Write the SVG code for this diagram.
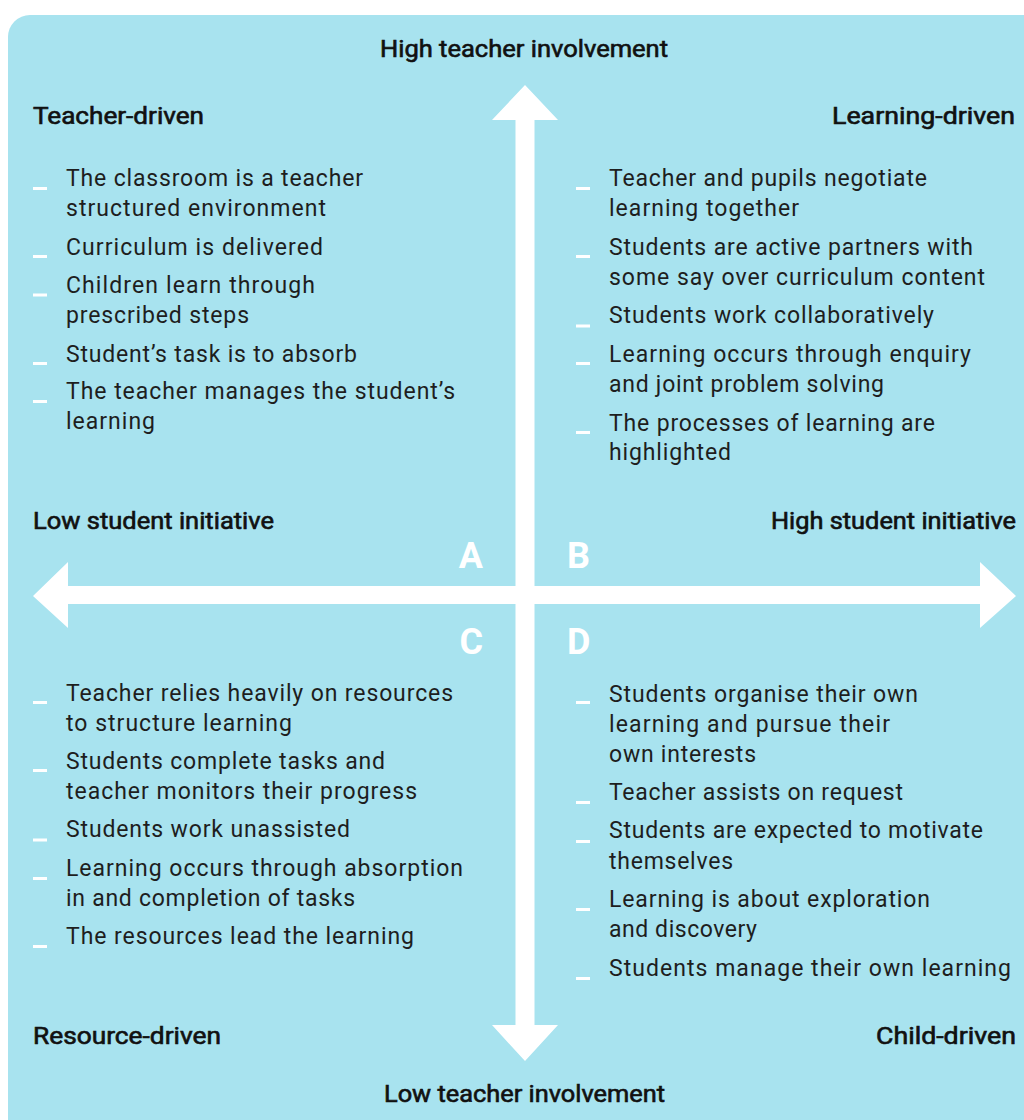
<svg xmlns="http://www.w3.org/2000/svg" width="1024" height="1120" viewBox="0 0 1024 1120">
<style>
.bg{fill:#a8e3ef}
.b{font-family:Roboto,"Liberation Sans",Arial,sans-serif;font-size:23px;fill:#1e1e1e;font-weight:400}
.h{font-family:Roboto,"Liberation Sans",Arial,sans-serif;font-size:23px;fill:#111;font-weight:400;stroke:#111;stroke-width:0.6}
.q{font-family:Roboto,"Liberation Sans",Arial,sans-serif;font-size:36px;fill:#fff;font-weight:700}
.d{fill:#fff}
.ar{fill:#fff}
</style>
<rect width="1024" height="1120" fill="#fff"/>
<rect class="bg" x="8" y="15" width="1050" height="1140" rx="22"/>

<g id="connectors">
  <polygon class="ar" points="525,85 558,120 534.5,120 534.5,1025 558,1025 525,1061 492,1025 515.5,1025 515.5,120 492,120"/>
  <polygon class="ar" points="33,596 68,562 68,586 980,586 980,562 1016,596 980,628 980,604 68,604 68,628"/>
</g>

<g id="axis-labels">
  <text class="h" x="380" y="57" textLength="288" lengthAdjust="spacingAndGlyphs">High teacher involvement</text>
  <text class="h" x="384" y="1102" textLength="281" lengthAdjust="spacingAndGlyphs">Low teacher involvement</text>
  <text class="h" x="33" y="529" textLength="241" lengthAdjust="spacingAndGlyphs">Low student initiative</text>
  <text class="h" x="771" y="529" textLength="245" lengthAdjust="spacingAndGlyphs">High student initiative</text>
</g>

<g id="quadrant-A">
  <text class="h" x="33" y="124" textLength="171" lengthAdjust="spacingAndGlyphs">Teacher-driven</text>
  <text class="q" x="483" y="567.5" text-anchor="end">A</text>
  <rect class="d" x="33" y="187" width="14" height="3"/>
  <rect class="d" x="33" y="255" width="14" height="3"/>
  <rect class="d" x="33" y="293.5" width="14" height="3"/>
  <rect class="d" x="33" y="362" width="14" height="3"/>
  <rect class="d" x="33" y="400" width="14" height="3"/>
  <text class="b" x="66" y="186" textLength="297" lengthAdjust="spacing">The classroom is a teacher</text>
  <text class="b" x="66" y="216" textLength="260" lengthAdjust="spacing">structured environment</text>
  <text class="b" x="66" y="255" textLength="257" lengthAdjust="spacing">Curriculum is delivered</text>
  <text class="b" x="66" y="293" textLength="249" lengthAdjust="spacing">Children learn through</text>
  <text class="b" x="66" y="323" textLength="183" lengthAdjust="spacing">prescribed steps</text>
  <text class="b" x="66" y="362" textLength="291" lengthAdjust="spacing">Student’s task is to absorb</text>
  <text class="b" x="66" y="399" textLength="389" lengthAdjust="spacing">The teacher manages the student’s</text>
  <text class="b" x="66" y="429" textLength="89" lengthAdjust="spacing">learning</text>
</g>

<g id="quadrant-B">
  <text class="h" x="1015" y="124" text-anchor="end" textLength="183" lengthAdjust="spacingAndGlyphs">Learning-driven</text>
  <text class="q" x="567" y="567.5">B</text>
  <rect class="d" x="576" y="187" width="14" height="3"/>
  <rect class="d" x="576" y="255" width="14" height="3"/>
  <rect class="d" x="576" y="324.5" width="14" height="3"/>
  <rect class="d" x="576" y="362" width="14" height="3"/>
  <rect class="d" x="576" y="431" width="14" height="3"/>
  <text class="b" x="609" y="186" textLength="318" lengthAdjust="spacing">Teacher and pupils negotiate</text>
  <text class="b" x="609" y="216" textLength="190" lengthAdjust="spacing">learning together</text>
  <text class="b" x="609" y="255" textLength="364" lengthAdjust="spacing">Students are active partners with</text>
  <text class="b" x="609" y="285" textLength="376" lengthAdjust="spacing">some say over curriculum content</text>
  <text class="b" x="609" y="323" textLength="325" lengthAdjust="spacing">Students work collaboratively</text>
  <text class="b" x="609" y="362" textLength="362" lengthAdjust="spacing">Learning occurs through enquiry</text>
  <text class="b" x="609" y="392" textLength="275" lengthAdjust="spacing">and joint problem solving</text>
  <text class="b" x="609" y="431" textLength="326" lengthAdjust="spacing">The processes of learning are</text>
  <text class="b" x="609" y="460" textLength="122" lengthAdjust="spacing">highlighted</text>
</g>

<g id="quadrant-C">
  <text class="h" x="33" y="1044" textLength="188" lengthAdjust="spacingAndGlyphs">Resource-driven</text>
  <text class="q" x="483" y="653.5" text-anchor="end">C</text>
  <rect class="d" x="33" y="701" width="14" height="3"/>
  <rect class="d" x="33" y="769" width="14" height="3"/>
  <rect class="d" x="33" y="838.5" width="14" height="3"/>
  <rect class="d" x="33" y="877" width="14" height="3"/>
  <rect class="d" x="33" y="945" width="14" height="3"/>
  <text class="b" x="66" y="701" textLength="387" lengthAdjust="spacing">Teacher relies heavily on resources</text>
  <text class="b" x="66" y="731" textLength="226" lengthAdjust="spacing">to structure learning</text>
  <text class="b" x="66" y="769" textLength="319" lengthAdjust="spacing">Students complete tasks and</text>
  <text class="b" x="66" y="799" textLength="351" lengthAdjust="spacing">teacher monitors their progress</text>
  <text class="b" x="66" y="837" textLength="284" lengthAdjust="spacing">Students work unassisted</text>
  <text class="b" x="66" y="876" textLength="397" lengthAdjust="spacing">Learning occurs through absorption</text>
  <text class="b" x="66" y="906" textLength="289" lengthAdjust="spacing">in and completion of tasks</text>
  <text class="b" x="66" y="944" textLength="348" lengthAdjust="spacing">The resources lead the learning</text>
</g>

<g id="quadrant-D">
  <text class="h" x="1016" y="1044" text-anchor="end" textLength="140" lengthAdjust="spacingAndGlyphs">Child-driven</text>
  <text class="q" x="567" y="653.5">D</text>
  <rect class="d" x="576" y="701" width="14" height="3"/>
  <rect class="d" x="576" y="801" width="14" height="3"/>
  <rect class="d" x="576" y="840" width="14" height="3"/>
  <rect class="d" x="576" y="908" width="14" height="3"/>
  <rect class="d" x="576" y="977" width="14" height="3"/>
  <text class="b" x="609" y="702" textLength="309" lengthAdjust="spacing">Students organise their own</text>
  <text class="b" x="609" y="732" textLength="281" lengthAdjust="spacing">learning and pursue their</text>
  <text class="b" x="609" y="762" textLength="147" lengthAdjust="spacing">own interests</text>
  <text class="b" x="609" y="800" textLength="294" lengthAdjust="spacing">Teacher assists on request</text>
  <text class="b" x="609" y="838" textLength="374" lengthAdjust="spacing">Students are expected to motivate</text>
  <text class="b" x="609" y="869" textLength="124" lengthAdjust="spacing">themselves</text>
  <text class="b" x="609" y="907" textLength="321" lengthAdjust="spacing">Learning is about exploration</text>
  <text class="b" x="609" y="937" textLength="148" lengthAdjust="spacing">and discovery</text>
  <text class="b" x="609" y="976" textLength="402" lengthAdjust="spacing">Students manage their own learning</text>
</g>
</svg>
